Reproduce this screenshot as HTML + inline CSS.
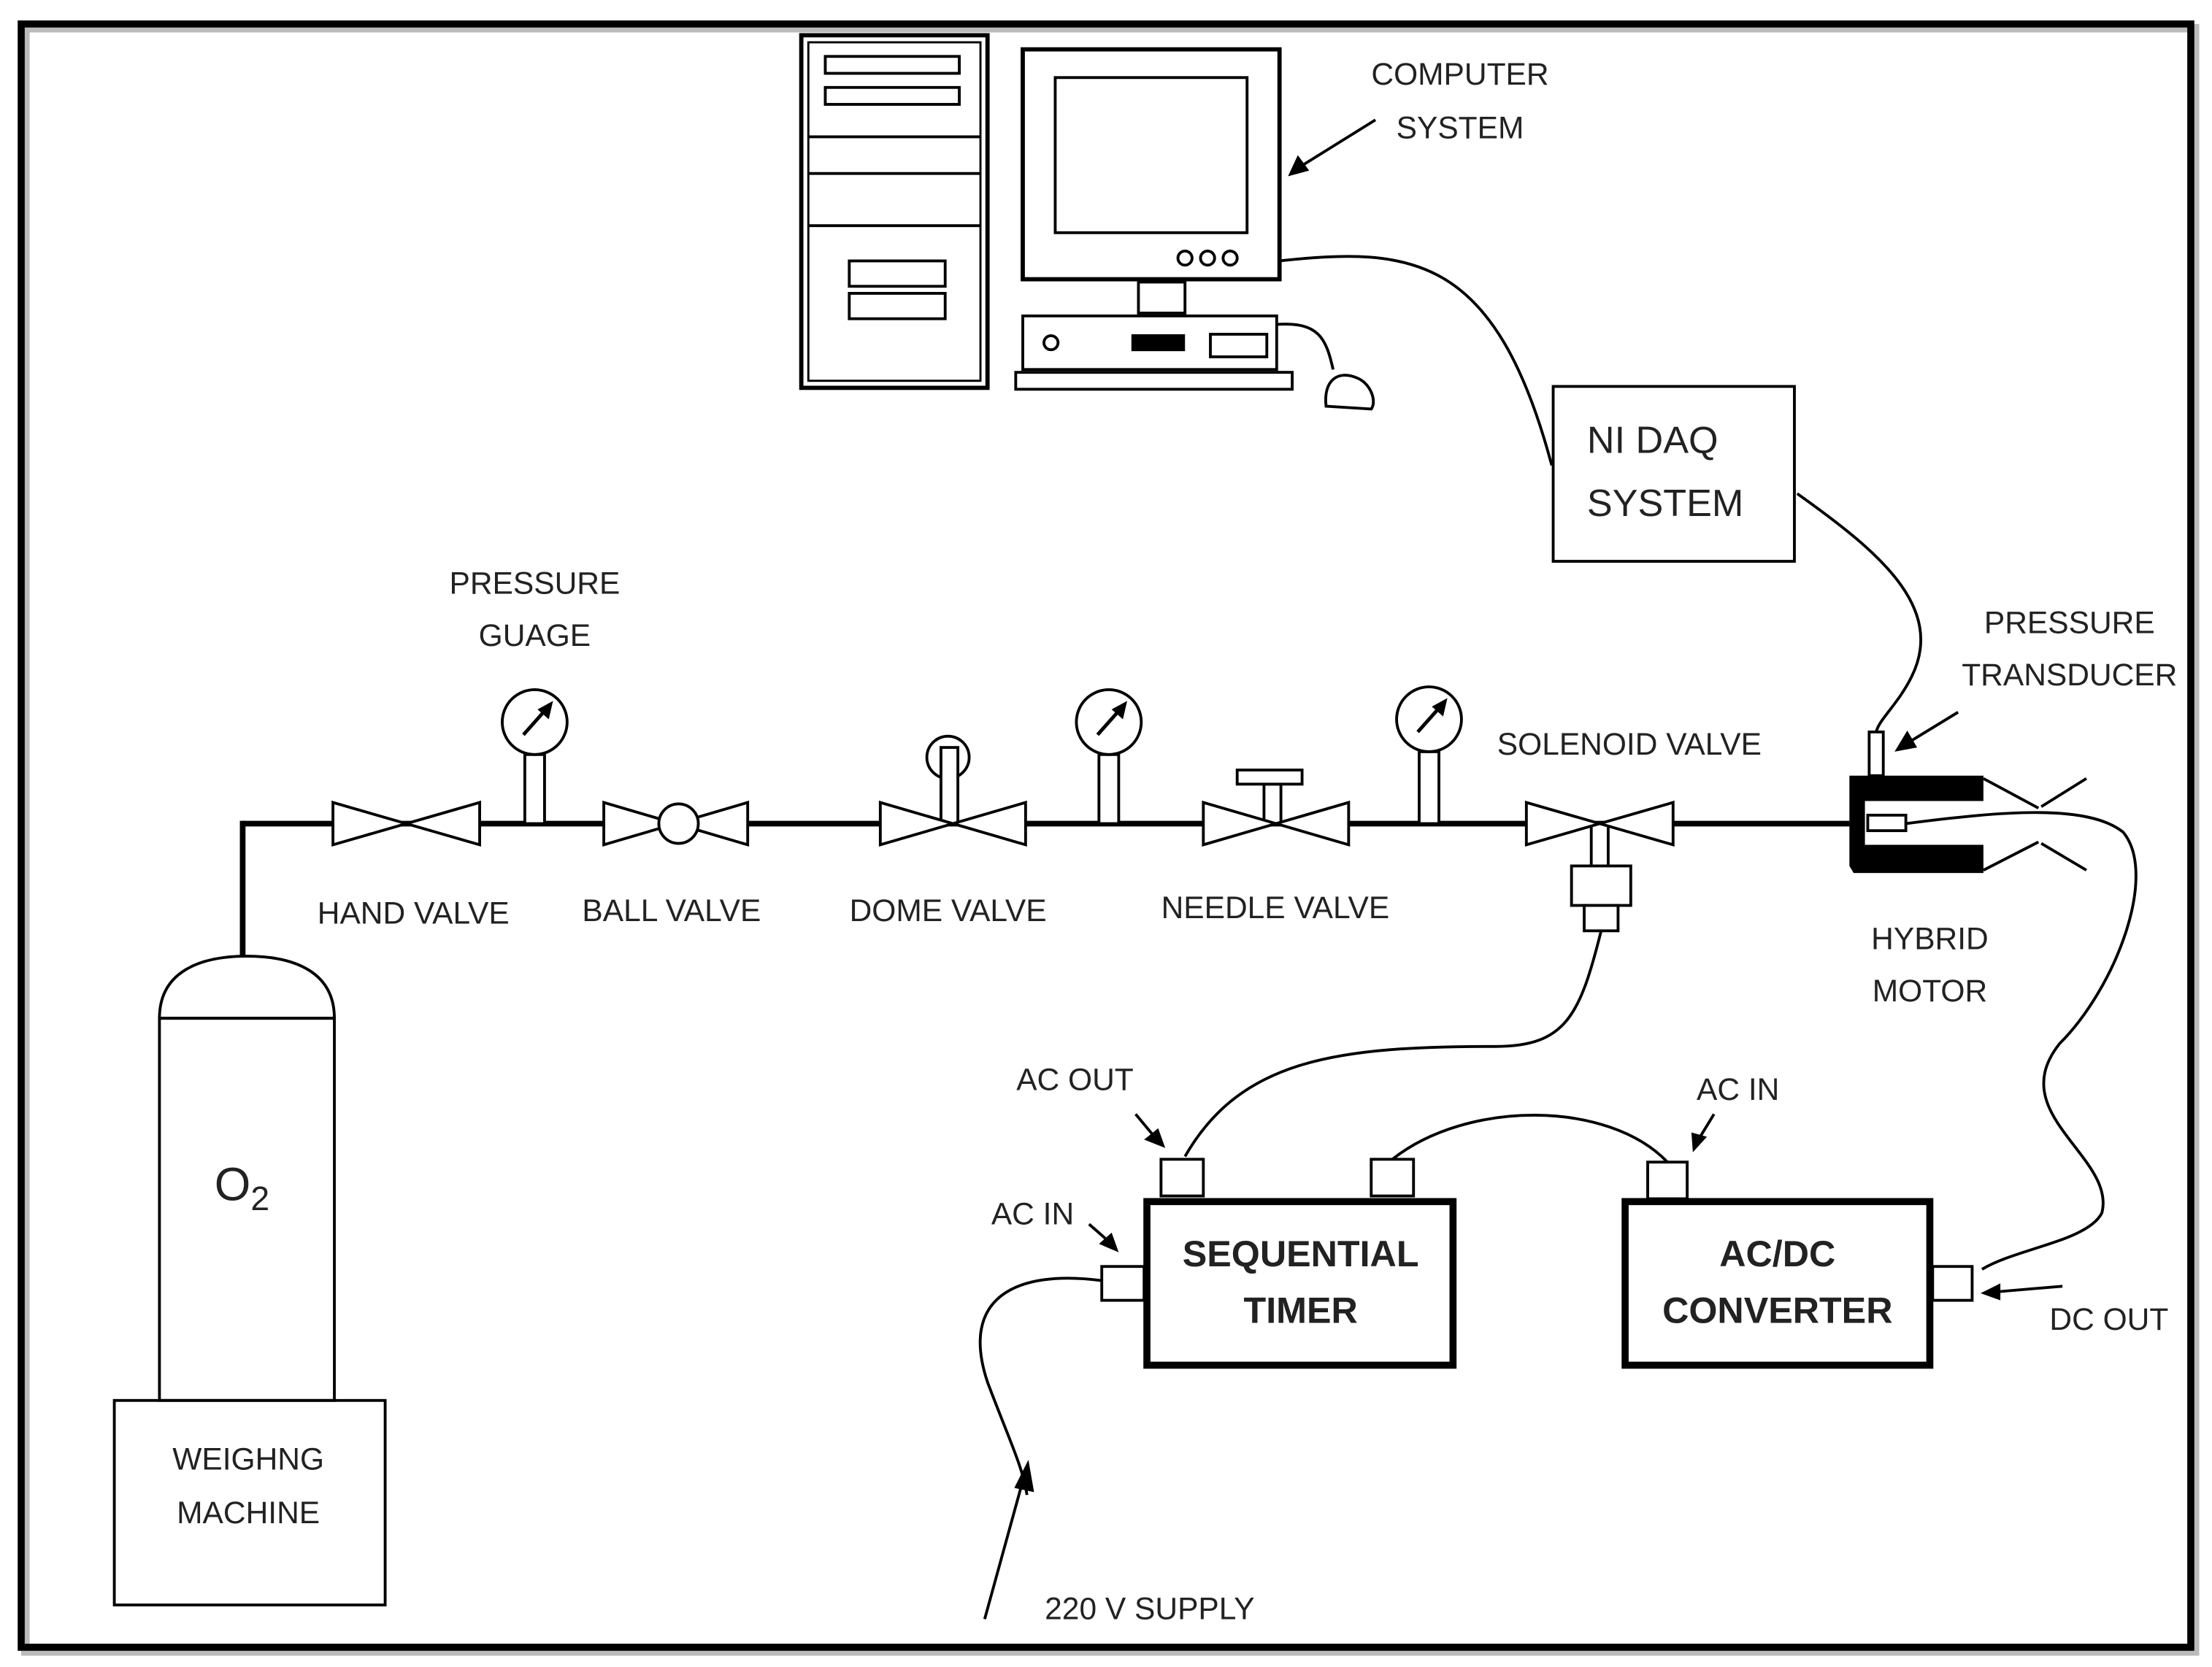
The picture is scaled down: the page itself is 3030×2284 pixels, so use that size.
<!DOCTYPE html>
<html><head><meta charset="utf-8"><style>
html,body{margin:0;padding:0;background:#fff;}
svg{display:block;}
text{font-family:"Liberation Sans",sans-serif;fill:#222;}
</style></head><body>
<svg width="3030" height="2284" viewBox="0 0 1568 1182" xmlns="http://www.w3.org/2000/svg">
<rect x="0" y="0" width="1568" height="1182" fill="#fff"/>
<rect x="18" y="20" width="1538" height="1151" fill="none" stroke="#bbb" stroke-width="6"/>
<rect x="15" y="17" width="1538" height="1151" fill="none" stroke="#000" stroke-width="5"/>
<g fill="none" stroke="#000" stroke-width="2">
<rect x="568" y="25" width="132" height="250" stroke-width="3"/>
<rect x="573" y="30" width="122" height="240" stroke-width="1.5"/>
<rect x="585" y="40" width="95" height="12"/>
<rect x="585" y="62" width="95" height="12"/>
<line x1="573" y1="97" x2="695" y2="97"/>
<line x1="573" y1="123" x2="695" y2="123"/>
<line x1="573" y1="160" x2="695" y2="160"/>
<rect x="602" y="185" width="68" height="18"/>
<rect x="602" y="208" width="68" height="18"/>
<rect x="725" y="35" width="182" height="163" stroke-width="3"/>
<rect x="748" y="55" width="136" height="110"/>
<circle cx="840" cy="183" r="5"/><circle cx="856" cy="183" r="5"/><circle cx="872" cy="183" r="5"/>
<rect x="807" y="200" width="33" height="22"/>
<rect x="725" y="224" width="180" height="38"/>
<circle cx="745" cy="243" r="5"/>
<rect x="858" y="237" width="40" height="16"/>
<rect x="720" y="264" width="196" height="12"/>
<path d="M905 230 C935 228 940 240 945 262"/>
<path d="M940 288 C938 270 948 262 962 268 C972 272 976 285 972 290 Z"/>
<line x1="975" y1="85" x2="922" y2="118"/>
<path d="M907 185 C1000 175 1060 180 1100 330"/>
<rect x="1101" y="274" width="171" height="124"/>
<path d="M1274 350 C1330 390 1380 430 1355 480 C1345 500 1332 510 1330 519"/>
<line x1="172" y1="584" x2="1311" y2="584" stroke-width="4"/>
<line x1="172" y1="582" x2="172" y2="678" stroke-width="4"/>
<path d="M113 722 C113 690 140 678 175 678 C210 678 237 690 237 722 Z"/>
<rect x="113" y="722" width="124" height="271"/>
<rect x="81" y="993" width="192" height="145"/>
</g>
<g stroke="#000" stroke-width="2" fill="#fff">
<path d="M236 569 L340 599 L340 569 L236 599 Z"/>
<rect x="372" y="535" width="14" height="49"/><circle cx="379" cy="512" r="23"/>
<rect x="779" y="535" width="14" height="49"/><circle cx="786" cy="512" r="23"/>
<rect x="1006" y="533" width="14" height="51"/><circle cx="1013" cy="510" r="23"/>
<path d="M428 569 L530 599 L530 569 L428 599 Z"/><circle cx="481" cy="584" r="14"/>
<circle cx="672" cy="537" r="15"/>
<rect x="667" y="530" width="12" height="54"/>
<path d="M624 569 L727 599 L727 569 L624 599 Z"/>
<rect x="896" y="556" width="12" height="28"/>
<rect x="877" y="546" width="46" height="10"/>
<path d="M853 569 L956 599 L956 569 L853 599 Z"/>
<rect x="1128" y="584" width="12" height="30"/>
<rect x="1114" y="614" width="42" height="28"/>
<rect x="1123" y="642" width="24" height="18"/>
<path d="M1082 569 L1186 599 L1186 569 L1082 599 Z"/>
<rect x="1325" y="519" width="10" height="31"/>
</g>
<g stroke="#000" stroke-width="2.5">
<line x1="371" y1="521" x2="387" y2="503"/>
<line x1="778" y1="521" x2="794" y2="503"/>
<line x1="1005" y1="519" x2="1021" y2="501"/>
</g>
<g fill="#000">
<path d="M392 497 L389 510 L381 503 Z"/>
<path d="M799 497 L796 510 L788 503 Z"/>
<path d="M1026 495 L1023 508 L1015 501 Z"/>
<path d="M1311 550 L1406 550 L1406 568 L1322 568 L1322 599 L1406 599 L1406 619 L1314 619 L1311 614 Z"/>
<path d="M1388 505 L1352 527" stroke="#000" stroke-width="2"/>
<path d="M1343 533 L1352 518 L1359 530 Z"/>
<path d="M913 125 L920 110 L928 121 Z"/>
</g>
<rect x="1324" y="578" width="27" height="11" fill="#fff" stroke="#000" stroke-width="2"/>
<g fill="none" stroke="#000" stroke-width="2">
<path d="M1406 552 L1445 573 M1447 572 L1479 552 M1406 617 L1445 597 M1447 598 L1479 617"/>
<path d="M1351 584 C1420 575 1480 570 1505 590 C1530 620 1500 700 1460 740 C1420 790 1500 820 1490 860 C1480 880 1430 885 1405 900"/>
<path d="M1135 660 C1120 720 1110 742 1060 742 C950 742 880 750 840 820"/>
<path d="M987 822 C1040 780 1140 780 1182 824"/>
<path d="M781 908 C720 900 680 920 700 980 C715 1020 725 1040 728 1060"/>
<line x1="698" y1="1148" x2="725" y2="1050"/>
<line x1="805" y1="790" x2="820" y2="808"/>
<line x1="772" y1="868" x2="788" y2="882"/>
<line x1="1215" y1="790" x2="1204" y2="808"/>
<line x1="1462" y1="912" x2="1415" y2="916"/>
</g>
<g fill="#000">
<path d="M729 1035 L733 1058 L719 1055 Z"/>
<path d="M826 814 L811 808 L821 800 Z"/>
<path d="M793 888 L779 882 L788 874 Z"/>
<path d="M1200 817 L1199 803 L1210 806 Z"/>
<path d="M1404 917 L1418 910 L1418 922 Z"/>
</g>
<g fill="#fff" stroke="#000" stroke-width="2">
<rect x="823" y="822" width="30" height="26"/>
<rect x="972" y="822" width="30" height="26"/>
<rect x="781" y="898" width="30" height="24"/>
<rect x="1168" y="824" width="28" height="26"/>
<rect x="1370" y="898" width="28" height="24"/>
</g>
<rect x="813" y="852" width="217" height="116" fill="none" stroke="#000" stroke-width="5"/>
<rect x="1152" y="852" width="216" height="116" fill="none" stroke="#000" stroke-width="5"/>
<rect x="802" y="237" width="38" height="12" fill="#000"/>
<g font-size="22" text-anchor="middle">
<text x="1035" y="60">COMPUTER</text>
<text x="1035" y="98">SYSTEM</text>
<text x="379" y="421">PRESSURE</text>
<text x="379" y="458">GUAGE</text>
<text x="293" y="655">HAND VALVE</text>
<text x="476" y="653">BALL VALVE</text>
<text x="672" y="653">DOME VALVE</text>
<text x="904" y="651">NEEDLE VALVE</text>
<text x="1155" y="535">SOLENOID VALVE</text>
<text x="1467" y="449">PRESSURE</text>
<text x="1467" y="486">TRANSDUCER</text>
<text x="1368" y="673">HYBRID</text>
<text x="1368" y="710">MOTOR</text>
<text x="762" y="773">AC OUT</text>
<text x="732" y="868">AC IN</text>
<text x="1232" y="780">AC IN</text>
<text x="1495" y="943">DC OUT</text>
<text x="815" y="1148">220 V SUPPLY</text>
<text x="176" y="1042">WEIGHNG</text>
<text x="176" y="1080">MACHINE</text>
</g>
<text x="1125" y="321" font-size="27">NI DAQ</text>
<text x="1125" y="366" font-size="27">SYSTEM</text>
<text x="152" y="851" font-size="33">O<tspan font-size="24" dy="7">2</tspan></text>
<g font-size="26" font-weight="bold" text-anchor="middle">
<text x="922" y="898">SEQUENTIAL</text>
<text x="922" y="938">TIMER</text>
<text x="1260" y="898">AC/DC</text>
<text x="1260" y="938">CONVERTER</text>
</g>
</svg>
</body></html>
